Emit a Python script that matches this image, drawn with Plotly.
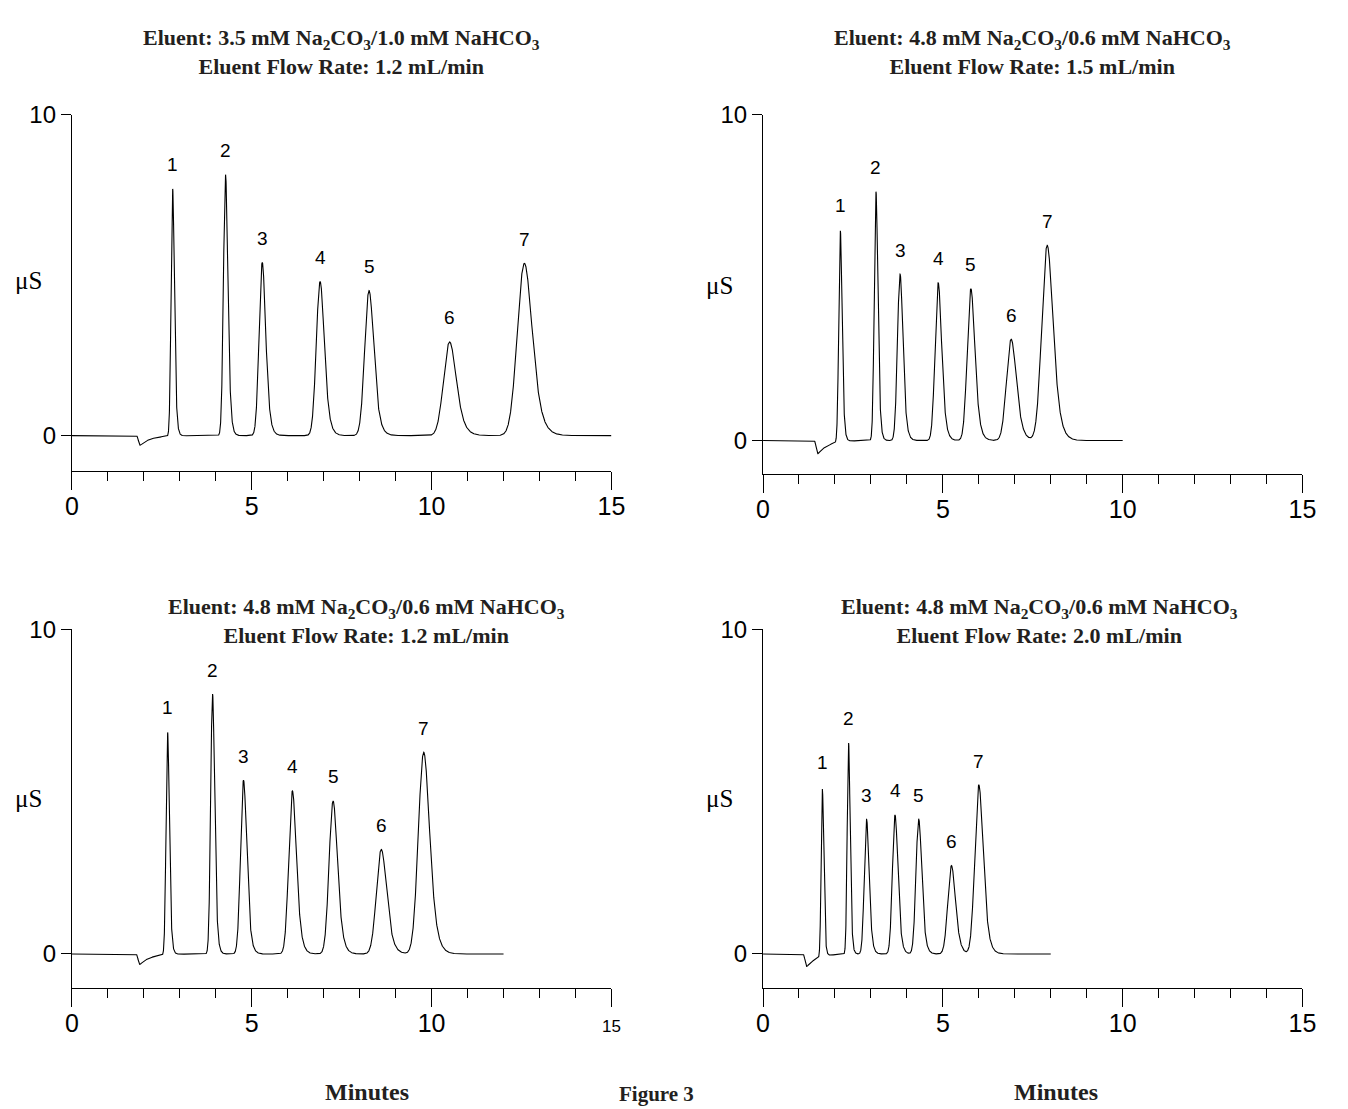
import numpy as np
import plotly.graph_objects as go

# ---------------- data ----------------
titles = [
    "<b>Eluent: 3.5 mM Na<sub>2</sub>CO<sub>3</sub>/1.0 mM NaHCO<sub>3</sub></b><br><b>Eluent Flow Rate: 1.2 mL/min</b>",
    "<b>Eluent: 4.8 mM Na<sub>2</sub>CO<sub>3</sub>/0.6 mM NaHCO<sub>3</sub></b><br><b>Eluent Flow Rate: 1.5 mL/min</b>",
    "<b>Eluent: 4.8 mM Na<sub>2</sub>CO<sub>3</sub>/0.6 mM NaHCO<sub>3</sub></b><br><b>Eluent Flow Rate: 1.2 mL/min</b>",
    "<b>Eluent: 4.8 mM Na<sub>2</sub>CO<sub>3</sub>/0.6 mM NaHCO<sub>3</sub></b><br><b>Eluent Flow Rate: 2.0 mL/min</b>",
]
peak_labels = ["1", "2", "3", "4", "5", "6", "7"]

times_a = [2.80, 4.27, 5.29, 6.90, 8.26, 10.50, 12.58]
heights_a = [7.70, 8.13, 5.40, 4.80, 4.52, 2.92, 5.37]
fwhm_a = [0.09, 0.12, 0.18, 0.22, 0.25, 0.35, 0.41]

times_b = [2.15, 3.14, 3.81, 4.87, 5.78, 6.90, 7.90]
heights_b = [6.48, 7.64, 5.11, 4.84, 4.66, 3.11, 5.99]
fwhm_b = [0.09, 0.10, 0.15, 0.18, 0.21, 0.27, 0.31]

times_c = [2.66, 3.91, 4.77, 6.13, 7.26, 8.60, 9.78]
heights_c = [6.84, 8.00, 5.35, 5.02, 4.71, 3.22, 6.21]
fwhm_c = [0.09, 0.11, 0.17, 0.21, 0.23, 0.28, 0.31]

times_d = [1.65, 2.38, 2.88, 3.67, 4.33, 5.24, 6.00]
heights_d = [5.16, 6.50, 4.15, 4.28, 4.15, 2.72, 5.20]
fwhm_d = [0.07, 0.08, 0.13, 0.15, 0.16, 0.21, 0.23]

dip_times = [1.85, 1.48, 1.84, 1.17]
dip_depths = [-0.30, -0.40, -0.32, -0.38]
run_ends = [15, 10, 12, 8]

panels = [
    (times_a, heights_a, fwhm_a),
    (times_b, heights_b, fwhm_b),
    (times_c, heights_c, fwhm_c),
    (times_d, heights_d, fwhm_d),
]

# ---------------- helpers ----------------
W, H = 1348, 1109


def tailed_peak(t, tr, h, fwhm, tail=0.9):
    dt = t[1] - t[0]
    s = fwhm / 2.355
    tau = tail * s
    g = np.exp(-0.5 * ((t - tr) / s) ** 2)
    k = np.exp(-np.arange(0, 12 * tau, dt) / tau)
    y = np.convolve(g, k)[: len(t)]
    shift = t[np.argmax(y)] - tr
    y = np.interp(t + shift, t, y, left=0, right=0)
    return h * y / y.max()


def dip(t, t0, depth):
    dt = t[1] - t[0]
    s = 0.025
    tau = 0.28
    g = np.exp(-0.5 * ((t - t0) / s) ** 2)
    k = np.exp(-np.arange(0, 10 * tau, dt) / tau)
    y = np.convolve(g, k)[: len(t)]
    return depth * y / y.max()


def px(x):
    return x / W


def py(y):
    return 1 - y / H


# pixel geometry of each panel: x0, x1 (for 0..15), ytop (value 10), ybot (axis line), yzero
geo = [
    (66, 614, 102, 463, 427),
    (768, 1316, 102, 466, 432),
    (66, 614, 623, 986, 952),
    (768, 1316, 623, 986, 952),
]

fig = go.Figure()
annotations = []
layout_axes = {}

for i, ((tr_list, h_list, w_list), (x0, x1, yt, yb, yz)) in enumerate(zip(panels, geo)):
    n = i + 1
    t = np.arange(0, run_ends[i] + 1e-9, 0.002)
    y = np.zeros_like(t)
    y += dip(t, dip_times[i], dip_depths[i])
    for tr, h, w in zip(tr_list, h_list, w_list):
        y += tailed_peak(t, tr, h, w)
    xa = "x" if n == 1 else f"x{n}"
    ya = "y" if n == 1 else f"y{n}"
    fig.add_trace(go.Scatter(x=t, y=y, mode="lines", xaxis=xa, yaxis=ya,
                             line=dict(color="black", width=1.1), showlegend=False,
                             hoverinfo="skip"))
    ppu = (yz - yt) / 10.0
    ymin = -(yb - yz) / ppu
    xkey = "xaxis" if n == 1 else f"xaxis{n}"
    ykey = "yaxis" if n == 1 else f"yaxis{n}"
    ticktext = ["0", "5", "10", "15"]
    if n == 3:
        ticktext = ["0", "5", "10", "<span style='font-size:17px'>15</span>"]
    layout_axes[xkey] = dict(
        domain=[px(x0), px(x1)], anchor=ya, range=[0, 15],
        showline=True, linecolor="black", linewidth=1.2,
        tickmode="array", tickvals=[0, 5, 10, 15], ticktext=ticktext,
        ticks="outside", ticklen=18, tickwidth=1, tickcolor="black",
        ticklabelstandoff=-5,
        minor=dict(tickmode="array", tickvals=list(range(0, 16)), ticks="outside",
                   ticklen=9, tickwidth=1, tickcolor="black", showgrid=False),
        showgrid=False, zeroline=False,
        tickfont=dict(family="Liberation Sans", size=25, color="black"),
    )
    layout_axes[ykey] = dict(
        domain=[py(yb), py(yt)], anchor=xa, range=[ymin, 10],
        showline=True, linecolor="black", linewidth=1.2,
        tickmode="array", tickvals=[0, 10], ticktext=["0", "10"],
        ticks="outside", ticklen=10, tickwidth=1, tickcolor="black",
        showgrid=False, zeroline=False,
        tickfont=dict(family="Liberation Sans", size=24, color="black"),
    )
    for lab, tr, h in zip(peak_labels, tr_list, h_list):
        annotations.append(dict(x=tr, y=h, xref=xa, yref=ya, text=lab, showarrow=False,
                                yshift=24, font=dict(family="Liberation Sans", size=19, color="black")))
    annotations.append(dict(x=px(x0 - 44), y=py(yz - 157), xref="paper", yref="paper",
                            xanchor="center", yanchor="middle",
                            text="\u03bcS", showarrow=False,
                            font=dict(family="Liberation Serif", size=25, color="black")))

title_centers = [(340, 38), (1042, 38), (365, 615), (1049, 615)]
for txt, (cx, cy) in zip(titles, title_centers):
    annotations.append(dict(x=px(cx), y=py(cy), xref="paper", yref="paper", text=txt,
                            showarrow=False, xanchor="center", yanchor="middle", align="center",
                            font=dict(family="Liberation Serif", size=22, color="#231f20")))

for cx in (366, 1066):
    annotations.append(dict(x=px(cx), y=py(1092), xref="paper", yref="paper", text="<b>Minutes</b>",
                            showarrow=False, xanchor="center", yanchor="middle",
                            font=dict(family="Liberation Serif", size=24, color="#231f20")))
annotations.append(dict(x=px(660), y=py(1094), xref="paper", yref="paper", text="<b>Figure 3</b>",
                        showarrow=False, xanchor="center", yanchor="middle",
                        font=dict(family="Liberation Serif", size=21, color="#231f20")))

fig.update_layout(
    width=W, height=H,
    margin=dict(l=0, r=0, t=0, b=0),
    paper_bgcolor="white", plot_bgcolor="white",
    annotations=annotations,
    **layout_axes,
)

fig.write_html("out.html")
